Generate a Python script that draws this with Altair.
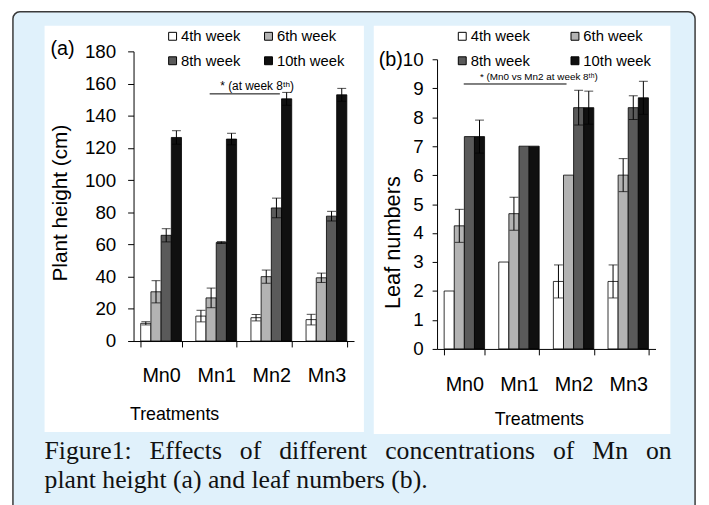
import altair as alt
import pandas as pd

# ---------------- data ----------------
treatments = ["Mn0", "Mn1", "Mn2", "Mn3"]
weeks = ["4th week", "6th week", "8th week", "10th week"]
week_colors = ["#ffffff", "#b3b3b3", "#5a5a5a", "#101010"]

# (a) plant height (cm)
height_4th = [11, 15.5, 14.5, 13.3]
height_4th_err = [1, 3.6, 2, 3.3]
height_6th = [30.6, 26.8, 40, 39.3]
height_6th_err = [6.9, 6.1, 4.1, 2.9]
height_8th = [65.7, 61.2, 82.7, 77.6]
height_8th_err = [4.1, 0.6, 6.1, 3]
height_10th = [126.5, 125.5, 150.5, 153]
height_10th_err = [4.2, 3.6, 4, 4]

# (b) leaf numbers
leaf_4th = [2, 3, 2.33, 2.33]
leaf_4th_err = [0, 0, 0.57, 0.57]
leaf_6th = [4.25, 4.67, 6, 6]
leaf_6th_err = [0.57, 0.57, 0, 0.57]
leaf_8th = [7.33, 7, 8.33, 8.33]
leaf_8th_err = [0, 0, 0.6, 0.41]
leaf_10th = [7.33, 7, 8.33, 8.67]
leaf_10th_err = [0.57, 0, 0.57, 0.57]

height_ticks = [0, 20, 40, 60, 80, 100, 120, 140, 160, 180]
leaf_ticks = [0, 1, 2, 3, 4, 5, 6, 7, 8, 9, 10]

GAP = "\u2002\u2009"  # justified-looking word spacing
caption_1 = GAP.join(["Figure1:", "Effects", "of", "different",
                      "concentrations", "of", "Mn", "on"])
caption_2 = "plant height (a) and leaf numbers (b)."
note_a = "* (at  week 8\u1d57\u02b0)"
note_b = "* (Mn0  vs Mn2 at week 8\u1d57\u02b0)"


def build(vals, errs):
    rows = []
    for w, v, e in zip(weeks, vals, errs):
        for t, vv, ee in zip(treatments, v, e):
            rows.append({"Treatment": t, "week": w, "value": vv, "err": ee,
                         "lo": vv - ee, "hi": vv + ee})
    return pd.DataFrame(rows)


df_a = build([height_4th, height_6th, height_8th, height_10th],
             [height_4th_err, height_6th_err, height_8th_err, height_10th_err])
df_b = build([leaf_4th, leaf_6th, leaf_8th, leaf_10th],
             [leaf_4th_err, leaf_6th_err, leaf_8th_err, leaf_10th_err])

FONT = "Liberation Sans"
BLUE = "#e0f1fb"
W, H = 701, 497


def panel(df, ymax, ticks, xr, yr, xlab_pad, ylab_pad, ytick, ytitle, ytsize,
          ytx, yty, xtx, xty, lx, ly, colpad):
    x_off = yr[0] - H
    y_off = -xr[0]
    xenc = alt.X("Treatment:N", sort=treatments,
                 scale=alt.Scale(domain=treatments, range=xr,
                                 paddingInner=0.26, paddingOuter=0.13),
                 axis=alt.Axis(orient="bottom", offset=x_off, title="Treatments",
                               titleX=xtx, titleY=xty, titleBaseline="middle",
                               titleAlign="center",
                               titleFont=FONT, titleFontSize=18,
                               titleFontWeight="normal", titleColor="black",
                               labelAngle=0, labelFont=FONT, labelFontSize=20,
                               labelColor="black", labelPadding=xlab_pad,
                               tickBand="extent", tickSize=6, tickColor="black",
                               domainColor="black", grid=False, zindex=1))
    xoff = alt.XOffset("week:N", sort=weeks, scale=alt.Scale(domain=weeks))

    def yenc(field):
        return alt.Y(field, type="quantitative",
                     scale=alt.Scale(domain=[0, ymax], range=yr, nice=False),
                     axis=alt.Axis(orient="left", offset=y_off, values=ticks,
                                   title=ytitle, titleX=ytx, titleY=yty,
                                   titleAngle=270, titleBaseline="middle",
                                   titleAlign="center",
                                   titleFont=FONT, titleFontSize=ytsize,
                                   titleFontWeight="normal", titleColor="black",
                                   labelFont=FONT, labelFontSize=19,
                                   labelColor="black", labelPadding=ylab_pad,
                                   tickSize=ytick, tickColor="black",
                                   domainColor="black", grid=False, zindex=1))

    bars = alt.Chart(df).mark_bar(stroke="black", strokeWidth=0.8).encode(
        x=xenc, xOffset=xoff, y=yenc("value"),
        color=alt.Color("week:N", sort=weeks,
                        scale=alt.Scale(domain=weeks, range=week_colors),
                        legend=alt.Legend(orient="none", legendX=lx, legendY=ly,
                                          direction="horizontal",
                                          columns=2, title=None,
                                          symbolType="square", symbolSize=64,
                                          symbolStrokeColor="black",
                                          symbolStrokeWidth=1,
                                          labelFont=FONT, labelFontSize=15,
                                          labelColor="black", labelOffset=1,
                                          columnPadding=colpad, rowPadding=9,
                                          padding=0, zindex=1)),
    )
    err = df[df["err"] > 0]
    rule = alt.Chart(err).mark_rule(color="black", strokeWidth=1).encode(
        x=xenc, xOffset=xoff, y=yenc("lo"), y2="hi:Q")
    cap_lo = alt.Chart(err).mark_tick(color="black", size=9, thickness=1).encode(
        x=xenc, xOffset=xoff, y=yenc("lo"))
    cap_hi = alt.Chart(err).mark_tick(color="black", size=9, thickness=1).encode(
        x=xenc, xOffset=xoff, y=yenc("hi"))
    return alt.layer(bars, rule, cap_lo, cap_hi)


chart_a = panel(df_a, 180, height_ticks, [127, 350], [334, 41], 19, 12, 6,
                "Plant height (cm)", 21, -74, 194, 168, 74, 159, 18, 20)
chart_b = panel(df_b, 10, leaf_ticks, [434, 655], [342, 49], 20, 9, 5,
                "Leaf numbers", 22, -45, 234, 537, 71, 452, 18, 37)

one = alt.Data(values=[{"k": 1}])

box = alt.Chart(one).mark_rect(fill=BLUE, stroke="#3a3a3a", strokeWidth=1.5,
                               cornerRadius=7).encode(
    x=alt.value(5), x2=alt.value(695), y=alt.value(1), y2=alt.value(560))
panel_a = alt.Chart(one).mark_rect(fill="white").encode(
    x=alt.value(37), x2=alt.value(360), y=alt.value(15), y2=alt.value(426))
panel_b = alt.Chart(one).mark_rect(fill="white").encode(
    x=alt.value(370), x2=alt.value(670), y=alt.value(15), y2=alt.value(428))

line_a = alt.Chart(one).mark_rule(color="black", strokeWidth=1).encode(
    x=alt.value(204), x2=alt.value(275), y=alt.value(84))
line_b = alt.Chart(one).mark_rule(color="black", strokeWidth=1).encode(
    x=alt.value(461), x2=alt.value(565), y=alt.value(74))
text_a = alt.Chart(one).mark_text(text=note_a, font=FONT, fontSize=12,
                                  align="center", baseline="alphabetic",
                                  color="black").encode(
    x=alt.value(252), y=alt.value(80))
text_b = alt.Chart(one).mark_text(text=note_b, font=FONT, fontSize=10,
                                  align="center", baseline="alphabetic",
                                  color="black").encode(
    x=alt.value(537), y=alt.value(70))
lab_a = alt.Chart(one).mark_text(text="(a)", font=FONT, fontSize=20,
                                 align="left", baseline="middle",
                                 color="black").encode(
    x=alt.value(43), y=alt.value(39))
lab_b = alt.Chart(one).mark_text(text="(b)", font=FONT, fontSize=20,
                                 align="left", baseline="middle",
                                 color="black").encode(
    x=alt.value(375), y=alt.value(50))
cap1 = alt.Chart(one).mark_text(text=caption_1, font="Liberation Serif",
                                fontSize=26, align="left", baseline="alphabetic",
                                color="#111111").encode(
    x=alt.value(37), y=alt.value(453))
cap2 = alt.Chart(one).mark_text(text=caption_2, font="Liberation Serif",
                                fontSize=26, align="left", baseline="alphabetic",
                                color="#111111").encode(
    x=alt.value(37), y=alt.value(483))

chart = alt.layer(
    box, panel_a, panel_b, line_a, line_b, text_a, text_b, lab_a, lab_b,
    cap1, cap2, chart_a, chart_b
).resolve_scale(
    x="independent", y="independent", color="independent", xOffset="independent"
).properties(
    width=W, height=H, padding=0,
    autosize=alt.AutoSizeParams(type="none"),
).configure_view(stroke="transparent")

chart.save("out.html", embed_options={"renderer": "svg", "actions": False})
